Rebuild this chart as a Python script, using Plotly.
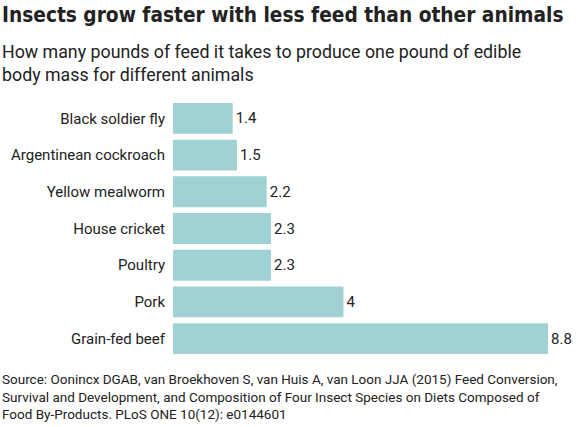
import plotly.graph_objects as go

animals = ["Black soldier fly", "Argentinean cockroach", "Yellow mealworm",
           "House cricket", "Poultry", "Pork", "Grain-fed beef"]
feed_per_lb = [1.4, 1.5, 2.2, 2.3, 2.3, 4, 8.8]
value_labels = ["1.4", "1.5", "2.2", "2.3", "2.3", "4", "8.8"]

title = "Insects grow faster with less feed than other animals"
subtitle = ("How many pounds of feed it takes to produce one pound of edible<br>"
            "body mass for different animals")
source = ("Source: Oonincx DGAB, van Broekhoven S, van Huis A, van Loon JJA (2015) Feed Conversion,<br>"
          "Survival and Development, and Composition of Four Insect Species on Diets Composed of<br>"
          "Food By-Products. PLoS ONE 10(12): e0144601")

ink = "#222222"
left = -173 / 375  # paper x of the figure's left edge

fig = go.Figure(go.Bar(
    x=feed_per_lb, y=animals, orientation="h",
    marker=dict(color="#a1d2d3", line=dict(width=0)),
    text=value_labels, textposition="outside", cliponaxis=False,
    textfont=dict(family="Roboto", size=15, color=ink),
))

fig.update_layout(
    width=578, height=427,
    margin=dict(l=173, r=30, t=100, b=70),
    paper_bgcolor="white", plot_bgcolor="white",
    bargap=0.16, showlegend=False,
    font=dict(family="Roboto", color=ink),
)
fig.update_xaxes(range=[0, 8.8], visible=False)
fig.update_yaxes(autorange="reversed", showgrid=False, ticks="",
                 tickfont=dict(family="Roboto", size=15, color=ink), ticklabelstandoff=7)

fig.add_annotation(text="<b>" + title + "</b>", xref="paper", yref="paper", x=left, y=1.0,
                   yshift=99, xanchor="left", yanchor="top", showarrow=False, align="left",
                   font=dict(family="DejaVu Sans Condensed, Roboto", size=20.7, color=ink))
fig.add_annotation(text=subtitle, xref="paper", yref="paper", x=left, y=1.0,
                   yshift=61, xanchor="left", yanchor="top", showarrow=False, align="left",
                   font=dict(family="Roboto", size=17.8, color=ink))
fig.add_annotation(text=source, xref="paper", yref="paper", x=left, y=0,
                   yshift=-12, xanchor="left", yanchor="top", showarrow=False, align="left",
                   font=dict(family="Roboto", size=13.5, color=ink))

# page body has an 8px default margin; drop it so the figure sits at the window corner
fig.write_html("out.html", config={"displayModeBar": False},
               post_script="document.body.style.margin='0';")
